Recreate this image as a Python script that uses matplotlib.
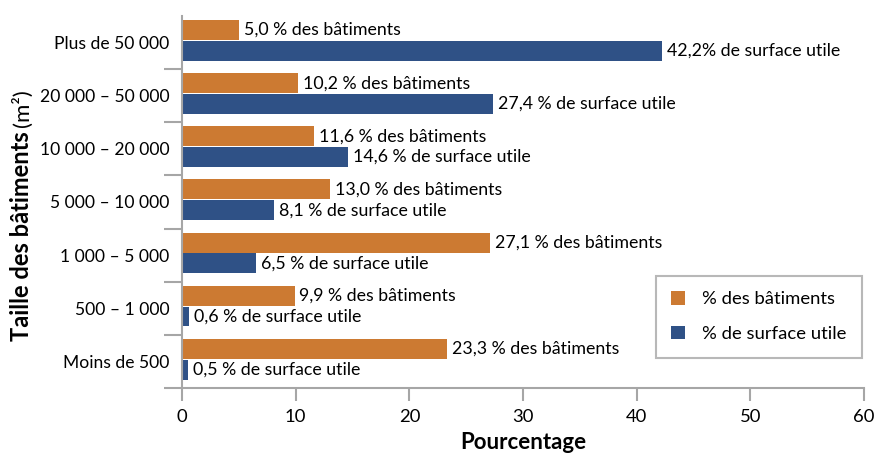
import matplotlib.pyplot as plt
import numpy as np

categories = ["Plus de 50 000", "20 000 – 50 000", "10 000 – 20 000", "5 000 – 10 000",
              "1 000 – 5 000", "500 – 1 000", "Moins de 500"]
batiments = [5.0, 10.2, 11.6, 13.0, 27.1, 9.9, 23.3]
surface = [42.2, 27.4, 14.6, 8.1, 6.5, 0.6, 0.5]
bat_labels = ["5,0 % des bâtiments", "10,2 % des bâtiments", "11,6 % des bâtiments",
              "13,0 % des bâtiments", "27,1 % des bâtiments", "9,9 % des bâtiments",
              "23,3 % des bâtiments"]
surf_labels = ["42,2% de surface utile", "27,4 % de surface utile", "14,6 % de surface utile",
               "8,1 % de surface utile", "6,5 % de surface utile", "0,6 % de surface utile",
               "0,5 % de surface utile"]

orange = "#CC7A32"
blue = "#2F5186"
gray = "#A6A6A6"

plt.rcParams["font.family"] = ["Lato", "DejaVu Sans"]

fig = plt.figure(figsize=(8.75, 4.55), dpi=100)
ax = fig.add_axes([182 / 875, 1 - 388 / 455, (864 - 182) / 875, (388 - 16) / 455])

y = np.arange(len(categories))
h = 0.375
ax.barh(y + 0.264, batiments, height=h, color=orange, label="% des bâtiments")
ax.barh(y + 0.655, surface, height=h, color=blue, label="% de surface utile")

for i in range(len(categories)):
    ax.annotate(bat_labels[i], (batiments[i], y[i] + 0.264), xytext=(3.5, 0),
                textcoords="offset points", va="center", ha="left", fontsize=12.8)
    ax.annotate(surf_labels[i], (surface[i], y[i] + 0.655), xytext=(3.5, 0),
                textcoords="offset points", va="center", ha="left", fontsize=12.8)

ax.set_xlim(0, 60)
ax.set_ylim(len(categories), 0)
ax.set_xticks(range(0, 61, 10))
ax.set_yticks(np.arange(1, len(categories) + 1))
ax.set_yticklabels([])
ax.set_yticks(y + 0.5, minor=True)
ax.set_yticklabels(categories, minor=True, fontsize=12.6)
ax.tick_params(axis="y", which="minor", length=0, pad=9)
ax.tick_params(axis="y", which="major", length=13, width=1.5, color=gray)
ax.tick_params(axis="x", length=9, width=1.5, color=gray, labelsize=13.3, pad=6)

for s in ["top", "right"]:
    ax.spines[s].set_visible(False)
for s in ["left", "bottom"]:
    ax.spines[s].set_color(gray)
    ax.spines[s].set_linewidth(1.5)

ax.set_xlabel("Pourcentage", fontsize=16, fontweight="bold", labelpad=5)

# y label: bold part + regular unit
ylab = fig.text(22 / 875, 1 - 341 / 455, "Taille des bâtiments", rotation=90, fontsize=17,
                fontweight="bold", ha="center", va="bottom")
fig.canvas.draw()
bb = ylab.get_window_extent()
fig.text(22 / 875, (bb.y1 + 4) / fig.bbox.height, "(m²)", rotation=90, fontsize=16,
         ha="center", va="bottom")

leg = ax.legend(loc="lower right", bbox_to_anchor=(0.997, 0.081), borderaxespad=0,
                fontsize=13.3, frameon=True, fancybox=False, handlelength=0.75,
                handleheight=0.75, borderpad=0.85, labelspacing=1.0, handletextpad=0.9)
leg.get_frame().set_edgecolor(gray)
leg.get_frame().set_linewidth(1.5)

fig.savefig("out.png", dpi=100)
